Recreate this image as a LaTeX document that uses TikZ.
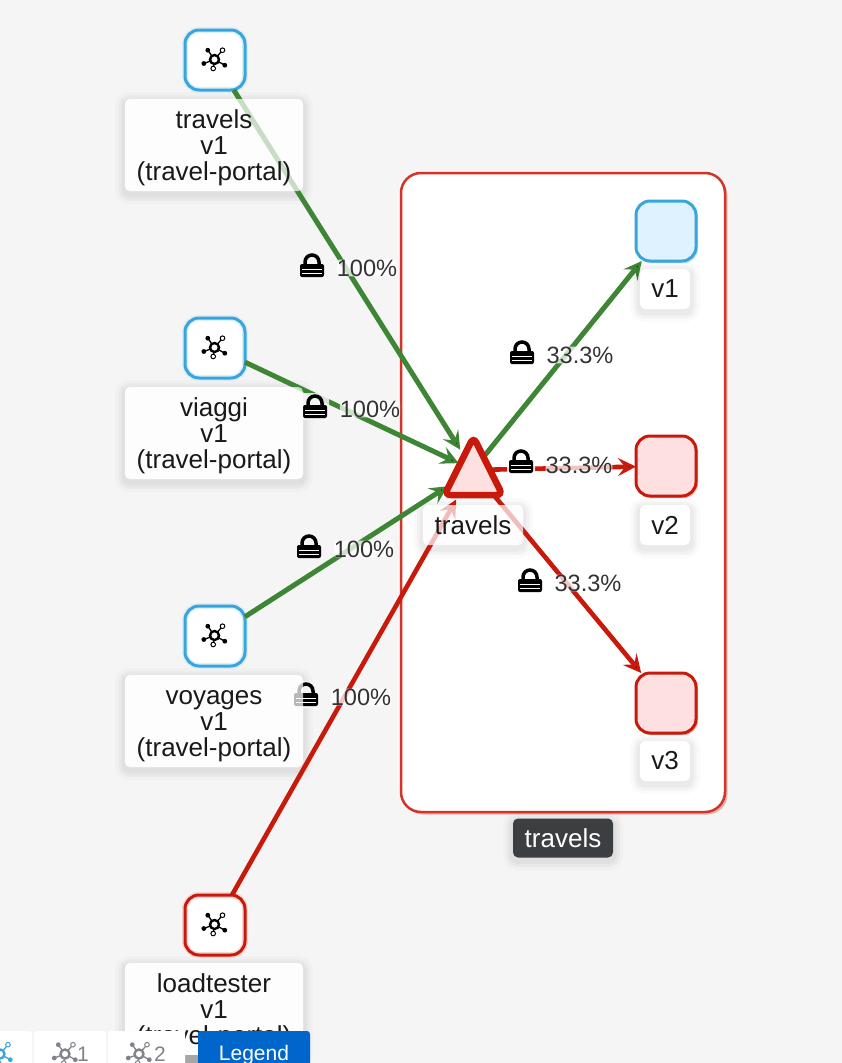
\documentclass[tikz,border=0pt]{standalone}
\usepackage{fontspec}
\setmainfont{Liberation Sans}
\usetikzlibrary{arrows.meta,shapes.geometric,shadows}

\definecolor{pageBg}{HTML}{F5F5F5}
\definecolor{flowGreen}{HTML}{3E8635}
\definecolor{flowRed}{HTML}{C9190B}
\definecolor{svcBlue}{HTML}{39A5DC}
\definecolor{paleBlue}{HTML}{DEF3FF}
\definecolor{paleRed}{HTML}{FFE0E0}
\definecolor{tagDark}{HTML}{3C3F42}
\definecolor{legendBlue}{HTML}{0066CC}
\definecolor{tabGray}{HTML}{80848A}

\newcommand{\cardstrut}{\rule{0pt}{25pt}}

\tikzset{
    softshade/.style={
        preaction={draw=black, draw opacity=.02, line width=20pt, transform canvas={yshift=-3pt}},
        preaction={draw=black, draw opacity=.03, line width=13pt, transform canvas={yshift=-3pt}},
        preaction={draw=black, draw opacity=.03, line width=7pt, transform canvas={yshift=-3pt}}
    },
    cardshade/.style={shape=rectangle, rounded corners=5pt, fill=white!98!black, outer sep=0pt, softshade},
    cardbox/.style={shape=rectangle, rounded corners=5pt, fill=white, fill opacity=.72, text opacity=1,
        align=center, outer sep=0pt, inner sep=0pt, text=black!90, font=\fontsize{26}{26}\selectfont},
    cardtall/.style={cardbox, minimum width=178pt, minimum height=92pt},
    svcbox/.style={shape=rectangle, rounded corners=14pt, fill=white, draw=#1!18, line width=6pt,
        postaction={draw=#1, line width=3pt}, minimum size=60pt, outer sep=0pt,
        drop shadow={shadow xshift=2pt, shadow yshift=-2pt, fill=#1, opacity=.3}},
    flowgreen/.style={draw=flowGreen, line width=5pt, -{Stealth[length=18pt, width=18pt, inset=7pt]}},
    flowred/.style={draw=flowRed, line width=4.6pt, -{Stealth[length=18pt, width=18pt, inset=7pt]}},
    ratelabel/.style={fill=white, fill opacity=.75, text opacity=1, inner sep=0pt, rounded corners=3pt, text=black!80,
        font=\fontsize{23.6}{24}\selectfont},
    tabbox/.style={shape=rectangle, fill=white, rounded corners=3pt, outer sep=0pt},
    lockicon/.pic={
        \fill[#1, fill opacity=.85, rounded corners=3pt] (-14,-13) rectangle (14,14);
        \draw[black, line width=3.5pt] (-7,1) -- (-7,-3) arc[start angle=180, end angle=360, radius=7] -- (7,1);
        \fill[black, rounded corners=2pt] (-12,-1) rectangle (12,12);
        \fill[white] (-10,3.5) rectangle (10,5);
        \fill[white] (-10,7.5) rectangle (10,9);
    },
    meshicon/.pic={
        \draw[#1, line width=1.3pt] (0,0) -- (-6.7,-9.3) (0,0) -- (8,-9.3) (0,0) -- (10.3,5.7) (0,0) -- (-1.3,9) (0,0) -- (-10.7,4);
        \fill[#1] (-6.7,-9.3) circle (2.4) (10.3,5.7) circle (2.4) (-10.7,4) circle (2.4);
        \draw[#1, fill=white, line width=1pt] (8,-9.3) circle (2.3) (-1.3,9) circle (2.3);
        \draw[#1, fill=white, line width=2.4pt] (0,0) circle (4.5);
    }
}

\begin{document}
\begin{tikzpicture}[x=1pt, y=-1pt]

    \useasboundingbox[fill=pageBg] (0,0) rectangle (842,1063);

    % namespace box
    \node[shape=rectangle, rounded corners=20pt, draw=flowRed!88, line width=2.5pt, fill=white, minimum width=324pt, minimum height=639pt, outer sep=0pt,
        drop shadow={shadow xshift=2.5pt, shadow yshift=-2.5pt, fill=flowRed, opacity=.3}] (TravelsGroup) at (563,492.5) {};

    % card backs go under the edges
    \node[cardshade, minimum width=178pt, minimum height=92pt] (TravelsBack) at (214,145) {};
    \node[cardshade, minimum width=178pt, minimum height=92pt] (ViaggiBack) at (214,433) {};
    \node[cardshade, minimum width=178pt, minimum height=92pt] (VoyagesBack) at (214,721) {};
    \node[cardshade, minimum width=178pt, minimum height=92pt] (LoadBack) at (214,1009) {};
    \node[cardshade, minimum width=100pt, minimum height=40pt] (HubBack) at (473,525) {};

    \coordinate (Hub) at (473,470);

    \node[svcbox=svcBlue] (TravelsSvc) at (215,60) {};
    \node[svcbox=svcBlue] (ViaggiSvc) at (215,348) {};
    \node[svcbox=svcBlue] (VoyagesSvc) at (215,636) {};
    \node[svcbox=flowRed] (LoadSvc) at (215,925) {};

    \node[shape=rectangle, rounded corners=14pt, draw=svcBlue, line width=3pt, fill=paleBlue, minimum size=60pt, outer sep=0pt,
        drop shadow={shadow xshift=2pt, shadow yshift=-2pt, fill=svcBlue, opacity=.3}] (VerOne) at (666,231) {};
    \node[shape=rectangle, rounded corners=14pt, draw=flowRed, line width=3pt, fill=paleRed, minimum size=60pt, outer sep=0pt,
        drop shadow={shadow xshift=2pt, shadow yshift=-2pt, fill=flowRed, opacity=.3}] (VerTwo) at (666,466) {};
    \node[shape=rectangle, rounded corners=14pt, draw=flowRed, line width=3pt, fill=paleRed, minimum size=60pt, outer sep=0pt,
        drop shadow={shadow xshift=2pt, shadow yshift=-2pt, fill=flowRed, opacity=.3}] (VerThree) at (666,703) {};

    \path [flowgreen] (TravelsSvc) edge[shorten >=24pt] (Hub);
    \path [flowgreen] (ViaggiSvc) edge[shorten >=16pt] (Hub);
    \path [flowgreen] (VoyagesSvc) edge[shorten >=30pt] (Hub);
    \path [flowred] (LoadSvc) edge[shorten >=34pt] (Hub);
    \path [flowgreen] (Hub) edge (VerOne);
    \path [flowred] (Hub) edge (VerTwo);
    \path [flowred] (Hub) edge (VerThree);

    \node[shape=isosceles triangle, isosceles triangle stretches, shape border rotate=90, rounded corners=6pt, draw=flowRed, line width=6.5pt, fill=paleRed,
        minimum width=58pt, minimum height=58pt, inner sep=0pt, outer sep=0pt, anchor=lower side] (HubShape) at (473.5,495) {};

    % locks and rates
    \foreach \lockx/\locky in {312/265, 315/406, 309/546, 306/694}
        \pic at (\lockx,\locky) {lockicon=pageBg};
    \foreach \lockx/\locky in {522/352, 521/461, 530/580}
        \pic at (\lockx,\locky) {lockicon=white};

    \node[ratelabel] (RateTravels) at (367,268) {100\%};
    \node[ratelabel] (RateViaggi) at (370,409) {100\%};
    \node[ratelabel] (RateVoyages) at (364,549) {100\%};
    \node[ratelabel] (RateLoad) at (361,697) {100\%};
    \node[ratelabel] (RateOne) at (580,355) {33.3\%};
    \node[ratelabel] (RateTwo) at (579,465) {33.3\%};
    \node[ratelabel] (RateThree) at (588,583) {33.3\%};

    \foreach \iconx/\icony in {214.5/59.5, 214.5/347.5, 214.5/635.5, 214.5/924.5}
        \pic at (\iconx,\icony) {meshicon=black};

    % cards
    \node[cardtall] (TravelsCard) at (214,145) {\cardstrut travels \\ v1 \\ (travel-portal)};
    \node[cardtall] (ViaggiCard) at (214,433) {\cardstrut viaggi \\ v1 \\ (travel-portal)};
    \node[cardtall] (VoyagesCard) at (214,721) {\cardstrut voyages \\ v1 \\ (travel-portal)};
    \node[cardtall] (LoadCard) at (214,1009) {\cardstrut loadtester \\ v1 \\ (travel-portal)};
    \node[cardbox, minimum width=100pt, minimum height=40pt] (HubLabel) at (473,525) {travels};

    \node[cardbox, fill opacity=1, softshade, minimum width=50pt, minimum height=40pt] (OneLabel) at (665,289) {v1};
    \node[cardbox, fill opacity=1, softshade, minimum width=50pt, minimum height=40pt] (TwoLabel) at (665,525) {v2};
    \node[cardbox, fill opacity=1, softshade, minimum width=50pt, minimum height=40pt] (ThreeLabel) at (665,761) {v3};

    \node[cardbox, fill=tagDark, fill opacity=1, text=white, softshade, minimum width=100pt, minimum height=39pt] (GroupLabel) at (563,838) {travels};

    % toolbar
    \fill[black!35] (185,1055) rectangle (198,1063);
    \node[tabbox, minimum width=70pt, minimum height=50pt] (TabAll) at (-3,1056) {};
    \node[tabbox, minimum width=72pt, minimum height=50pt] (TabOne) at (70,1056) {};
    \node[tabbox, minimum width=77pt, minimum height=50pt] (TabTwo) at (146.5,1056) {};
    \node[tabbox, fill=legendBlue, minimum width=112pt, minimum height=50pt] (TabLegend) at (254,1056) {};
    \pic at (0,1054) {meshicon=svcBlue};
    \pic at (65,1054) {meshicon=tabGray};
    \pic at (139,1054) {meshicon=tabGray};
    \node[text=tabGray, inner sep=0pt, font=\fontsize{21}{21}\selectfont] (TabOneText) at (83,1054) {1};
    \node[text=tabGray, inner sep=0pt, font=\fontsize{21}{21}\selectfont] (TabTwoText) at (160,1054) {2};
    \node[text=white, inner sep=0pt, font=\fontsize{21}{21}\selectfont] (LegendText) at (254,1055) {Legend};

\end{tikzpicture}
\end{document}
